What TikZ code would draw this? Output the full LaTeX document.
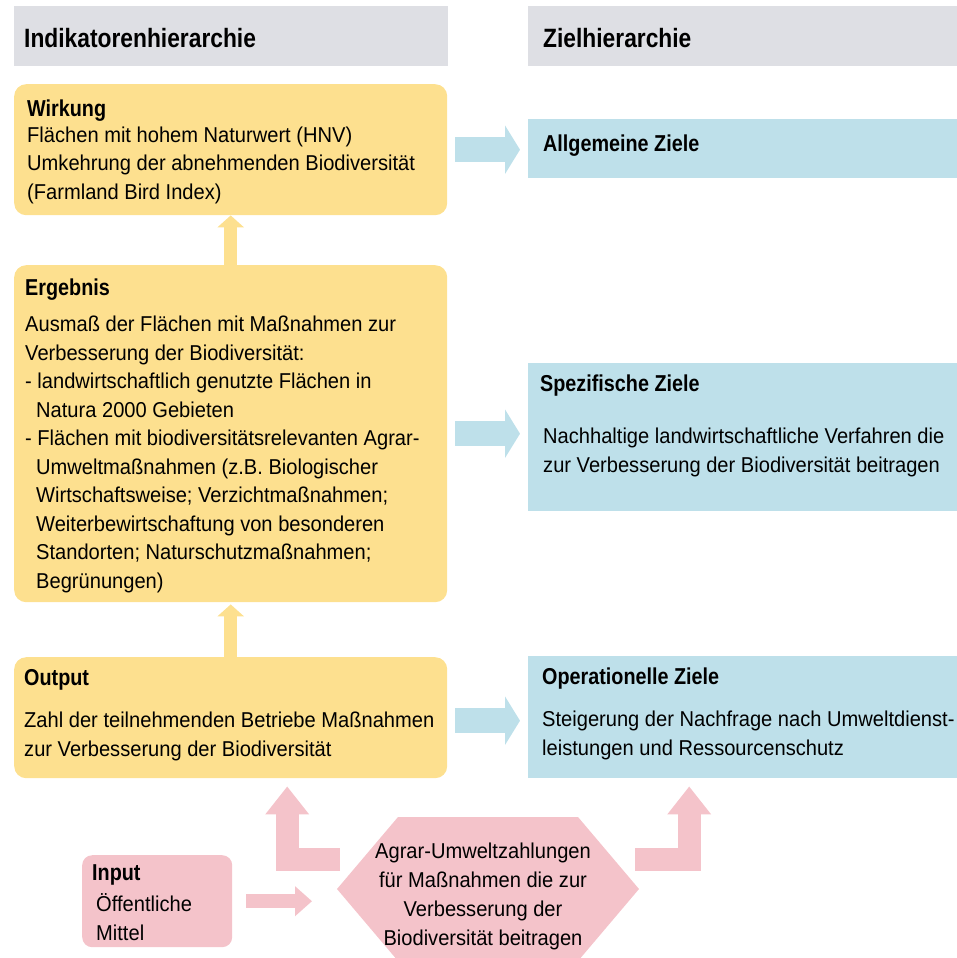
\documentclass[tikz,border=0pt]{standalone}
\usepackage{fontspec}
\setmainfont{Liberation Sans}[FakeStretch=0.935, BoldFeatures={FakeStretch=0.86}]
\usetikzlibrary{arrows.meta}
\definecolor{kopfgrau}{HTML}{DEDFE4}
\definecolor{gelb}{HTML}{FDE08F}
\definecolor{hellblau}{HTML}{BEE0EA}
\definecolor{rosa}{HTML}{F4C3CA}
\newcommand{\titel}[1]{{\fontsize{23}{28.5}\selectfont\bfseries #1}}
\tikzset{
  kopf/.style={fill=kopfgrau, anchor=north west, inner sep=0pt, minimum height=60pt},
  kopftext/.style={anchor=base west, inner sep=0pt, font=\fontsize{26.5}{30}\selectfont\bfseries},
  gelbbox/.style={fill=gelb, rounded corners=12pt, anchor=north west, inner sep=0pt, minimum width=433pt},
  blaubox/.style={fill=hellblau, anchor=north west, inner sep=0pt, minimum width=429pt},
  rosabox/.style={fill=rosa, rounded corners=10pt, anchor=north west, inner sep=0pt},
  txt/.style={anchor=base west, inner sep=0pt, align=left, font=\fontsize{21.5}{28.5}\selectfont},
  gelbpfeil/.style={draw=gelb, line width=13pt, -{Triangle[width=26pt,length=12pt]}},
  blaupfeil/.style={draw=hellblau, line width=25pt, -{Triangle[width=48pt,length=15pt]}, shorten <=8pt, shorten >=8pt},
  rosapfeil/.style={draw=rosa, line width=23pt, -{Triangle[width=42pt,length=28pt]}}
}
\begin{document}
\begin{tikzpicture}[x=1pt, y=-1pt]
\useasboundingbox (0,0) rectangle (957,958);
% Kopfzeilen
\node[kopf, minimum width=434pt] (kopflinks) at (14,6) {};
\node[kopf, minimum width=429pt] (kopfrechts) at (528,6) {};
\node[kopftext] (kopflinkstext) at (24,48) {Indikatorenhierarchie};
\node[kopftext] (kopfrechtstext) at (543,48) {Zielhierarchie};
% Indikatoren (Textknoten an der Grundlinie der letzten Zeile)
\node[gelbbox, minimum height=131pt] (wirkung) at (14,84) {};
\node[txt] (wirkungtext) at (27,199) {\titel{Wirkung}\\[-2.5pt]
  Flächen mit hohem Naturwert (HNV)\\
  Umkehrung der abnehmenden Biodiversität\\
  (Farmland Bird Index)};
\node[gelbbox, minimum height=337pt] (ergebnis) at (14,265) {};
\node[txt] (ergebnistext) at (25,588) {\titel{Ergebnis}\\[7.5pt]
  Ausmaß der Flächen mit Maßnahmen zur\\
  Verbesserung der Biodiversität:\\
  - landwirtschaftlich genutzte Flächen in\\
  \hspace*{11pt}Natura 2000 Gebieten\\
  - Flächen mit biodiversitätsrelevanten Agrar-\\
  \hspace*{11pt}Umweltmaßnahmen (z.B. Biologischer\\
  \hspace*{11pt}Wirtschaftsweise; Verzichtmaßnahmen;\\
  \hspace*{11pt}Weiterbewirtschaftung von besonderen\\
  \hspace*{11pt}Standorten; Naturschutzmaßnahmen;\\
  \hspace*{11pt}Begrünungen)};
\node[gelbbox, minimum height=121pt] (output) at (14,657) {};
\node[txt] (outputtext) at (24,756) {\titel{Output}\\[13.5pt]
  Zahl der teilnehmenden Betriebe Maßnahmen\\
  zur Verbesserung der Biodiversität};
% Ziele
\node[blaubox, minimum height=59pt] (allgemein) at (528,119) {};
\node[txt] (allgemeintext) at (543,151) {\titel{Allgemeine Ziele}};
\node[blaubox, minimum height=148pt] (spezifisch) at (528,363) {};
\node[txt] (spezifischtext) at (540,472) {\titel{Spezifische Ziele}\\[23.5pt]
  \hspace*{3pt}Nachhaltige landwirtschaftliche Verfahren die\\
  \hspace*{3pt}zur Verbesserung der Biodiversität beitragen};
\node[blaubox, minimum height=122pt] (operationell) at (528,656) {};
\node[txt] (operationelltext) at (542,755) {\titel{Operationelle Ziele}\\[13.5pt]
  Steigerung der Nachfrage nach Umweltdienst-\\
  leistungen und Ressourcenschutz};
% Input und Zahlungen
\node[rosabox, minimum width=150pt, minimum height=92pt] (input) at (82,855) {};
\node[txt] (inputtext) at (92,940) {\titel{Input}\\[2.5pt]
  \hspace*{4pt}Öffentliche\\
  \hspace*{4pt}Mittel};
\fill[rosa] (337,889) -- (398,817) -- (578,817) -- (639,889) -- (578,961) -- (398,961) -- cycle;
\coordinate (zahlungwest) at (337,889);
\node[txt, anchor=center, align=center, font=\fontsize{21.5}{29}\selectfont] (zahlung) at (483,896) {Agrar-Umweltzahlungen\\
  für Maßnahmen die zur\\
  Verbesserung der\\
  Biodiversität beitragen};
\coordinate (knicklinks) at (340,859);
\coordinate (knickrechts) at (635,859);
% Pfeile
\draw[gelbpfeil] (ergebnis.north) -- (wirkung.south);
\draw[gelbpfeil, shorten >=2pt] (output.north) -- (ergebnis.south);
\draw[blaupfeil] (wirkung.east) -- (wirkung.east -| allgemein.west);
\draw[blaupfeil] (ergebnis.east) -- (ergebnis.east -| spezifisch.west);
\draw[blaupfeil] ([yshift=-3pt]output.east) -- ([yshift=-3pt]output.east -| operationell.west);
\draw[draw=rosa, line width=14pt, -{Triangle[width=29pt,length=17pt]}, shorten <=14pt, shorten >=25pt] (input.east) -- (input.east -| zahlungwest);
\draw[rosapfeil] (knicklinks) -| ([shift={(56.5pt,-8pt)}]output.south);
\draw[rosapfeil] (knickrechts) -| ([shift={(-53.5pt,-8pt)}]operationell.south);
\end{tikzpicture}
\end{document}
